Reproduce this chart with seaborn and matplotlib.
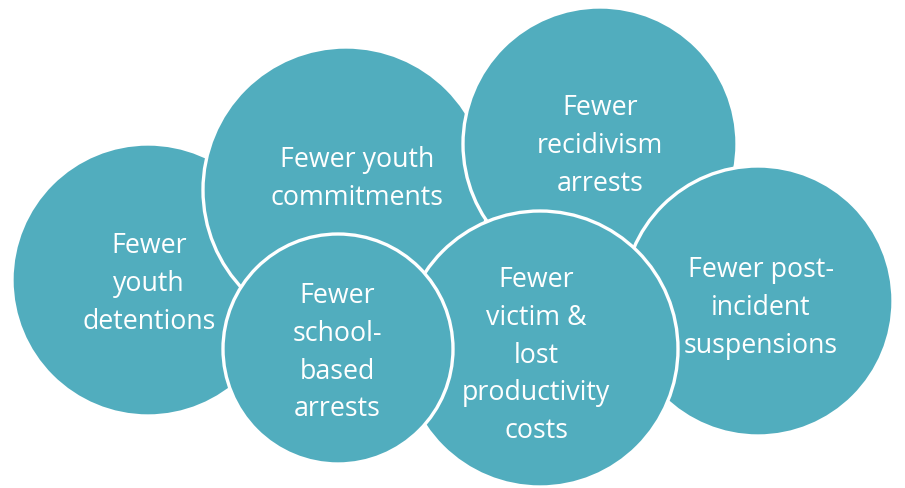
import matplotlib
matplotlib.use("Agg")
import matplotlib.pyplot as plt
from matplotlib.patches import Circle
import seaborn as sns

# ---- content ----
labels = [
    ["Fewer", "youth", "detentions"],
    ["Fewer youth", "commitments"],
    ["Fewer", "recidivism", "arrests"],
    ["Fewer post-", "incident", "suspensions"],
    ["Fewer", "victim &", "lost", "productivity", "costs"],
    ["Fewer", "school-", "based", "arrests"],
]

# ---- layout (pixel coordinates, drawing order) ----
centers_x = [148, 346, 600, 758, 540, 338]
centers_y = [281, 191, 145, 302, 350, 350]
radii = [136, 143, 137, 135, 138, 115]
text_x = [149, 357, 600, 761, 536, 337]
first_baseline = [253, 167, 115, 277, 287, 303]
line_step = 37.8

fill_color = "#51ADBE"

sns.set_theme(style="white")
plt.rcParams["font.family"] = ["Open Sans", "DejaVu Sans"]

fig = plt.figure(figsize=(9.05, 4.89), dpi=100)
ax = fig.add_axes([0, 0, 1, 1])
ax.set_xlim(0, 905)
ax.set_ylim(489, 0)
ax.set_aspect("equal")
ax.axis("off")

for i, (cx, cy, r) in enumerate(zip(centers_x, centers_y, radii)):
    z = 2 + i * 2
    ax.add_patch(Circle((cx, cy), r, facecolor=fill_color, edgecolor="white",
                        linewidth=2.4, zorder=z))
    for j, line in enumerate(labels[i]):
        ax.text(text_x[i], first_baseline[i] + j * line_step, line,
                ha="center", va="baseline", color="white", fontsize=19.3,
                zorder=z + 1)

fig.savefig("out.png", dpi=100)
